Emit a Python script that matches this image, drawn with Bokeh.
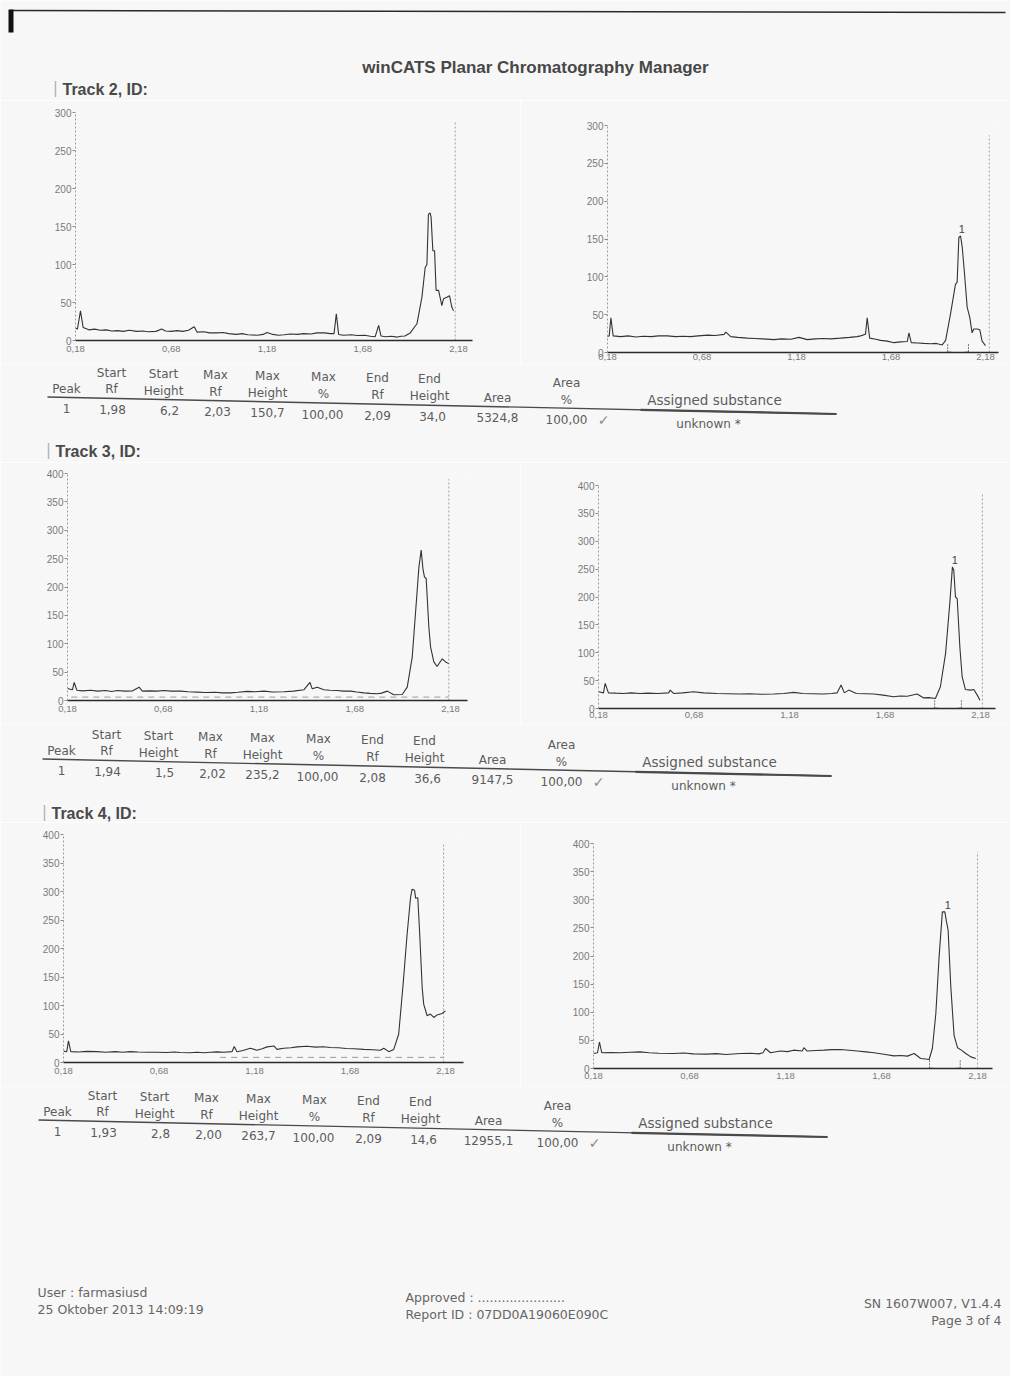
import numpy as np
from bokeh.plotting import figure
from bokeh.layouts import column, row
from bokeh.models import Range1d, FixedTicker, CustomJSTickFormatter
from bokeh.core.properties import value
from bokeh.embed import file_html
from bokeh.resources import INLINE

# ---------------- data ----------------
x_ticks = [0.18, 0.68, 1.18, 1.68, 2.18]

# Track 2 : raw scan (left) and evaluated scan (right)
t2_raw_rf = [0.17, 0.19, 0.206, 0.22, 0.25, 0.28, 0.31, 0.34, 0.37, 0.40, 0.43, 0.46, 0.50, 0.53, 0.56, 0.60,
             0.63, 0.65, 0.68, 0.71, 0.74, 0.77, 0.80, 0.815, 0.85, 0.88, 0.92, 0.95, 0.98, 1.02, 1.05, 1.08,
             1.13, 1.16, 1.18, 1.21, 1.24, 1.27, 1.30, 1.34, 1.37, 1.41, 1.44, 1.48, 1.51, 1.53, 1.542, 1.554,
             1.58, 1.62, 1.65, 1.69, 1.72, 1.745, 1.763, 1.775, 1.80, 1.83, 1.86, 1.88, 1.90, 1.928, 1.963,
             1.989, 2.006, 2.015, 2.023, 2.032, 2.037, 2.046, 2.055, 2.063, 2.076, 2.093, 2.102, 2.119, 2.133,
             2.145, 2.154]
t2_raw_au = [17, 15, 39, 17, 14, 15, 13.5, 14, 12.5, 13, 12, 13.5, 12, 12.5, 11.5, 12,
             15, 12.5, 12, 13, 12, 13.5, 18, 11, 11.5, 10, 10, 10.5, 9, 8, 9, 7.5,
             7, 8, 10.5, 8, 7, 7.5, 8.5, 8, 9, 8.5, 10, 10, 9, 9, 35, 8,
             7, 7.5, 6.5, 7, 5.5, 5, 20, 6, 5, 5.5, 4.5, 5.5, 6, 10, 22,
             57, 96, 100, 166, 168, 162, 118, 118, 66, 66, 46, 55, 57, 59,
             44, 39]
t2_eval_rf = [0.17, 0.189, 0.198, 0.21, 0.25, 0.29, 0.33, 0.37, 0.41, 0.45, 0.497, 0.54, 0.58, 0.62, 0.66,
              0.709, 0.75, 0.797, 0.806, 0.832, 0.87, 0.92, 0.96, 1.00, 1.061, 1.10, 1.15, 1.193, 1.237, 1.28,
              1.32, 1.36, 1.413, 1.46, 1.50, 1.519, 1.545, 1.554, 1.567, 1.60, 1.625, 1.66, 1.695, 1.73, 1.766,
              1.775, 1.787, 1.82, 1.854, 1.89, 1.92, 1.951, 1.969, 1.995, 2.021, 2.03, 2.039, 2.048, 2.057,
              2.069, 2.083, 2.097, 2.109, 2.118, 2.136, 2.15, 2.162, 2.18]
t2_eval_au = [20, 22, 46, 22, 21, 22, 20.5, 21.5, 21, 22, 22, 21, 21.5, 21, 22,
              23, 22.5, 24, 27, 21, 20, 19, 18.5, 18, 17, 18, 17.5, 20, 17, 18,
              18.5, 18, 19, 20, 21, 22, 24, 46, 19, 17.5, 16, 15, 13, 14, 14.5,
              26, 13, 12.5, 12, 11.5, 12, 10, 16, 51, 90, 93, 152, 154, 139,
              104, 60, 46, 26, 31, 31, 30, 15, 9]

# Track 3
t3_raw_rf = [0.18, 0.206, 0.215, 0.229, 0.26, 0.30, 0.337, 0.38, 0.41, 0.441, 0.48, 0.52, 0.554, 0.571, 0.61,
             0.65, 0.684, 0.72, 0.771, 0.81, 0.858, 0.90, 0.95, 0.99, 1.032, 1.07, 1.119, 1.16, 1.206, 1.25,
             1.31, 1.36, 1.415, 1.446, 1.458, 1.484, 1.519, 1.55, 1.589, 1.62, 1.658, 1.69, 1.728, 1.76, 1.797,
             1.82, 1.85, 1.884, 1.928, 1.954, 1.98, 1.997, 2.015, 2.027, 2.036, 2.044, 2.053, 2.067, 2.076,
             2.093, 2.11, 2.137, 2.154, 2.171]
t3_raw_au = [21, 19, 32, 18, 17, 18, 16.5, 17.5, 16, 17.6, 16.5, 17, 23.5, 16.5, 17,
             16.5, 17.6, 16.5, 16.5, 15.5, 14.7, 14, 14.5, 13.5, 13.5, 14.5, 16, 15.5, 16.5, 15,
             15.3, 16.5, 19, 32, 20.6, 23.5, 19, 18, 17.6, 16.5, 16.5, 15, 13.5, 12.5, 11.8,
             13, 16.5, 10, 10.6, 23.5, 76, 153, 235, 265, 232, 218, 215, 129, 94,
             68, 60, 73.5, 68, 65]
t3_eval_rf = [0.18, 0.206, 0.215, 0.232, 0.27, 0.31, 0.35, 0.398, 0.44, 0.49, 0.547, 0.556, 0.573, 0.62,
              0.678, 0.73, 0.80, 0.86, 0.922, 0.97, 1.03, 1.097, 1.15, 1.202, 1.25, 1.30, 1.359, 1.40, 1.429,
              1.45, 1.467, 1.49, 1.53, 1.58, 1.621, 1.67, 1.726, 1.76, 1.796, 1.848, 1.883, 1.91, 1.944, 1.97,
              1.997, 2.019, 2.033, 2.04, 2.049, 2.058, 2.072, 2.084, 2.101, 2.128, 2.145, 2.163, 2.177]
t3_eval_au = [30, 28, 45, 28, 27.5, 27, 28, 27, 27.5, 27, 28, 33, 27, 28,
              30, 28, 27, 26.5, 26, 26.5, 25.5, 26, 27, 29, 27, 26.5, 26, 27, 28,
              42, 28, 33, 27, 26.5, 26, 24, 21, 22.5, 22, 26, 19, 19.5, 18, 39,
              98.5, 188, 254, 248, 200, 197, 110, 57, 34, 33, 34, 24, 15]

# Track 4
t4_raw_rf = [0.18, 0.197, 0.206, 0.218, 0.26, 0.30, 0.355, 0.40, 0.45, 0.49, 0.529, 0.57, 0.62, 0.669, 0.72,
             0.76, 0.791, 0.84, 0.88, 0.914, 0.95, 0.983, 1.02, 1.062, 1.074, 1.088, 1.12, 1.158, 1.193, 1.22,
             1.246, 1.281, 1.298, 1.333, 1.37, 1.403, 1.455, 1.50, 1.54, 1.577, 1.62, 1.66, 1.70, 1.752, 1.80,
             1.839, 1.857, 1.883, 1.909, 1.935, 1.958, 1.979, 1.997, 2.005, 2.018, 2.024, 2.035, 2.045, 2.058,
             2.066, 2.084, 2.101, 2.119, 2.136, 2.162, 2.18]
t4_raw_au = [20, 19, 38, 19, 18.5, 19.5, 19, 18, 19, 18, 19, 18.5, 18, 18, 17.5,
             18.5, 17.5, 17, 18, 17, 18, 18.7, 18, 19, 28, 19, 21, 25, 21.6, 24,
             27.4, 29, 23, 25, 26, 27.4, 28.6, 27, 27.5, 26.3, 26, 24.5, 24, 23, 22.5,
             21.6, 25, 19, 23, 50, 137, 225, 289, 304, 302, 288, 289, 225, 131,
             102, 82, 85, 79, 83.5, 86, 90.5]
t4_eval_rf = [0.18, 0.201, 0.211, 0.223, 0.27, 0.32, 0.37, 0.423, 0.47, 0.52, 0.597, 0.65, 0.70, 0.771, 0.82,
              0.87, 0.945, 1.00, 1.04, 1.063, 1.076, 1.102, 1.154, 1.19, 1.223, 1.267, 1.276, 1.293, 1.34, 1.38,
              1.42, 1.467, 1.51, 1.554, 1.60, 1.641, 1.70, 1.745, 1.78, 1.815, 1.85, 1.884, 1.91, 1.928, 1.945,
              1.963, 1.98, 1.997, 2.01, 2.017, 2.027, 2.041, 2.058, 2.076, 2.096, 2.119, 2.145, 2.171]
t4_eval_au = [26.7, 28, 47, 28, 28.5, 28, 29, 29.6, 28, 27, 26.7, 27.5, 26, 25.5, 26.5,
              25, 26.7, 27, 26, 28, 35.5, 28, 31, 30, 32.6, 31, 37, 31, 32, 32.6,
              33.5, 33.8, 32.5, 31, 29.5, 28, 25, 22.5, 23, 22, 26.7, 17.8, 17, 16, 35.5,
              97.8, 198.5, 278.5, 278.5, 263.7, 246, 145, 59, 37, 32.6, 26.7, 20.7, 17.8]

# baseline (dashed) lines on the raw scans of tracks 3 and 4
t3_base_rf = [0.20, 2.17]
t3_base_au = [6, 6]
t4_base_rf = [1.00, 2.17]
t4_base_au = [9, 9]

# peak tables
tracks = ["Track 2, ID:", "Track 3, ID:", "Track 4, ID:"]
peak_no = [1, 1, 1]
start_rf = [1.98, 1.94, 1.93]
start_height = [6.2, 1.5, 2.8]
max_rf = [2.03, 2.02, 2.00]
max_height = [150.7, 235.2, 263.7]
max_pct = [100.00, 100.00, 100.00]
end_rf = [2.09, 2.08, 2.09]
end_height = [34.0, 36.6, 14.6]
area = [5324.8, 9147.5, 12955.1]
area_pct = [100.00, 100.00, 100.00]
substance = ["unknown *", "unknown *", "unknown *"]

hdr1 = ["Start", "Start", "Max", "Max", "Max", "End", "End", "Area"]
hdr2 = ["Peak", "Rf", "Height", "Rf", "Height", "%", "Rf", "Height", "Area", "%"]
hdr_sub = "Assigned substance"

title = "winCATS Planar Chromatography Manager"
footer_left = ["User : farmasiusd", "25 Oktober 2013 14:09:19"]
footer_mid = ["Approved : ......................", "Report ID : 07DD0A19060E090C"]
footer_right = ["SN 1607W007, V1.4.4", "Page 3 of 4"]

# ---------------- style / layout (page pixel positions) ----------------
PAGE = "#f7f7f7"
INK = "#333333"
TXT = "#5c5c5c"
FONT = "Liberation Sans"
TFONT = "DejaVu Sans"
W = 1010
# positions of table 2 on the page; tables 3 and 4 are shifted copies
hdr1_x = [111, 163, 215, 267, 323, 377, 429, 566]
hdr2_x = [66, 111, 163, 215, 267, 323, 377, 429, 497, 566]
val_x = [66, 112, 169, 217, 267, 322, 377, 432, 497, 566]
chk_x, sub_x, sub_hdr_x = 603, 708, 714
SLOPE = 0.022


def c2(v):
    return f"{v:.2f}".replace(".", ",")


def c1(v):
    return f"{v:.1f}".replace(".", ",")


def band(h, top):
    p = figure(width=W, height=h, x_range=Range1d(0, W), y_range=Range1d(top + h, top),
               output_backend="svg", toolbar_location=None, tools="", min_border=0,
               x_axis_type=None, y_axis_type=None,
               background_fill_color=PAGE, border_fill_color=PAGE, outline_line_color=None)
    p.grid.visible = False
    return p


def txt(p, xs, ys, texts, size="12px", align="center", color=TXT, style="normal", font=TFONT):
    p.text(x=xs, y=ys, text=texts, text_font=value(font), text_font_size=size,
           text_align=align, text_baseline="middle", text_color=color, text_font_style=style)


def track_label(p, x, y, i):
    p.segment(x0=[x - 7], y0=[y - 8], x1=[x - 7], y1=[y + 8], line_color="#777",
              line_width=1.5, line_dash="1 1")
    txt(p, [x], [y], [tracks[i]], size="16px", align="left", color="#4a4a4a", style="bold", font=FONT)


def table(p, i, dx, dy):
    r1 = lambda x: 372 + SLOPE * (x - 111) + dy
    r2 = lambda x: 388 + SLOPE * (x - 66) + dy
    rv = lambda x: 408 + SLOPE * (x - 66) + dy
    xs = [x + dx for x in hdr1_x]
    txt(p, xs, [r1(x) for x in hdr1_x], hdr1)
    xs = [x + dx for x in hdr2_x]
    txt(p, xs, [r2(x) for x in hdr2_x], hdr2)
    txt(p, [sub_hdr_x + dx], [r2(sub_hdr_x) - 2.5], [hdr_sub], size="13.5px")
    la, lb, ls = 47, 836, 640
    ly = lambda x: 396.5 + (413.5 - 396.5) * (x - la) / (lb - la) + dy
    p.segment(x0=[la + dx], y0=[ly(la)], x1=[lb + dx], y1=[ly(lb)], line_color="#4a4a4a", line_width=1.4)
    p.segment(x0=[ls + dx], y0=[ly(ls)], x1=[lb + dx], y1=[ly(lb)], line_color="#4a4a4a", line_width=2.2)
    vals = [str(peak_no[i]), c2(start_rf[i]), c1(start_height[i]), c2(max_rf[i]), c1(max_height[i]),
            c2(max_pct[i]), c2(end_rf[i]), c1(end_height[i]), c1(area[i]), c2(area_pct[i])]
    xs = [x + dx for x in val_x]
    txt(p, xs, [rv(x) for x in val_x], vals)
    txt(p, [chk_x + dx], [rv(chk_x)], ["\u2713"], size="14px", color="#8a8a8a")
    txt(p, [sub_x + dx], [rv(sub_x) + 1.5], [substance[i]])


def chart(rf, au, ymax, w, h, bl, fw, bt, fh, scale, scan_end, scan_top, standoff,
          base=None, peak=None):
    x_end = 0.18 + fw / scale
    p = figure(width=w, height=h, x_range=Range1d(0.18, x_end), y_range=Range1d(0, ymax),
               output_backend="svg", toolbar_location=None, tools="",
               min_border_left=bl, min_border_right=w - bl - fw,
               min_border_top=bt, min_border_bottom=h - bt - fh,
               background_fill_color=PAGE, border_fill_color=PAGE, outline_line_color=None)
    p.frame_align = False
    p.grid.visible = False
    xa = p.xaxis[0]
    xa.ticker = FixedTicker(ticks=x_ticks)
    xa.formatter = CustomJSTickFormatter(code="return tick.toFixed(2).replace('.', ',');")
    xa.axis_line_color = "#2a2a2a"
    xa.axis_line_width = 1.3
    xa.major_tick_out = 0
    xa.major_tick_in = 0
    xa.minor_tick_line_color = None
    xa.major_label_standoff = standoff
    xa.major_label_text_font = FONT
    xa.major_label_text_font_size = "9.5px"
    xa.major_label_text_color = "#7a7a7a"
    ya = p.yaxis[0]
    ya.ticker = FixedTicker(ticks=list(range(0, ymax + 1, 50)))
    ya.axis_line_color = "#9a9a9a"
    ya.axis_line_dash = "2 2"
    ya.major_tick_out = 3
    ya.major_tick_in = 0
    ya.major_tick_line_color = "#8a8a8a"
    ya.minor_tick_line_color = None
    ya.major_label_standoff = 1
    ya.major_label_text_font = FONT
    ya.major_label_text_font_size = "10px"
    ya.major_label_text_color = "#7a7a7a"
    p.segment(x0=[scan_end], y0=[0], x1=[scan_end], y1=[scan_top], line_color="#a0a0a0",
              line_dash="2 2", line_width=1)
    if base is not None:
        p.line(base[0], base[1], line_color="#9a9a9a", line_dash="6 5", line_width=1)
    p.line(rf, au, line_color=INK, line_width=1.1)
    if peak is not None:
        i = peak
        top = max(au)
        for xr, d in ((start_rf[i], 0.02), (end_rf[i], -0.02)):
            p.segment(x0=[xr], y0=[0.5], x1=[xr], y1=[ymax * 0.04], line_color="#777",
                      line_dash="2 1", line_width=1)
            p.segment(x0=[xr], y0=[0.5], x1=[xr + d], y1=[0.5], line_color="#777", line_width=1)
        p.text(x=[max_rf[i] + 0.025], y=[top], text=[str(peak_no[i])], text_font=value(FONT),
               text_font_size="11px", text_align="center", text_baseline="bottom",
               y_offset=-3, text_color="#444444")
    return p


LW, RW = 520, 490

# header band (page y 0-100)
hdr = band(100, 0)
hdr.segment(x0=[10], y0=[10], x1=[1005], y1=[12], line_color="#2a2a2a", line_width=1.5)
hdr.quad(left=[8], right=[13], top=[9], bottom=[32], fill_color="#111", line_color=None)
txt(hdr, [535], [67], [title], size="17px", color="#474747", style="bold", font=FONT)
track_label(hdr, 62, 89, 0)

# track 2 charts (page y 100-364)
c2l = chart(t2_raw_rf, t2_raw_au, 300, LW, 264, 75, 397, 12, 228, 191.5, 2.163, 287, 5)
c2r = chart(t2_eval_rf, t2_eval_au, 300, RW, 264, 87, 391, 25, 227, 189.0, 2.20, 287, 1, peak=0)

# table 2 + track 3 label (page y 364-462)
bc = band(98, 364)
table(bc, 0, 0, 0)
track_label(bc, 55, 451, 1)

# track 3 charts (page y 462-724)
c3l = chart(t3_raw_rf, t3_raw_au, 400, LW, 262, 67, 400, 11, 227, 191.5, 2.171, 390, 5,
            base=(t3_base_rf, t3_base_au))
c3r = chart(t3_eval_rf, t3_eval_au, 400, RW, 262, 78, 397, 23, 223, 191.0, 2.19, 385, 3, peak=1)

# table 3 + track 4 label (page y 724-822)
be = band(98, 724)
table(be, 1, -5, 362)
track_label(be, 51, 813, 2)

# track 4 charts (page y 822-1086)
c4l = chart(t4_raw_rf, t4_raw_au, 400, LW, 264, 63, 400, 12, 228, 191.0, 2.17, 385, 5,
            base=(t4_base_rf, t4_base_au))
c4r = chart(t4_eval_rf, t4_eval_au, 400, RW, 264, 73, 399, 21, 225, 192.0, 2.18, 385, 4, peak=2)

# table 4 + footer (page y 1086-1376)
bg = band(290, 1086)
table(bg, 2, -9, 723)
txt(bg, [37, 37], [1292, 1309], footer_left, size="12.5px", align="left", color="#666")
txt(bg, [405, 405], [1297, 1314], footer_mid, size="12.5px", align="left", color="#666")
txt(bg, [1001, 1001], [1303, 1320], footer_right, size="12.5px", align="right", color="#666")

layout = column(
    hdr,
    row(c2l, c2r, spacing=0),
    bc,
    row(c3l, c3r, spacing=0),
    be,
    row(c4l, c4r, spacing=0),
    bg,
    spacing=0,
)

open("out.html", "w").write(file_html(layout, INLINE))
